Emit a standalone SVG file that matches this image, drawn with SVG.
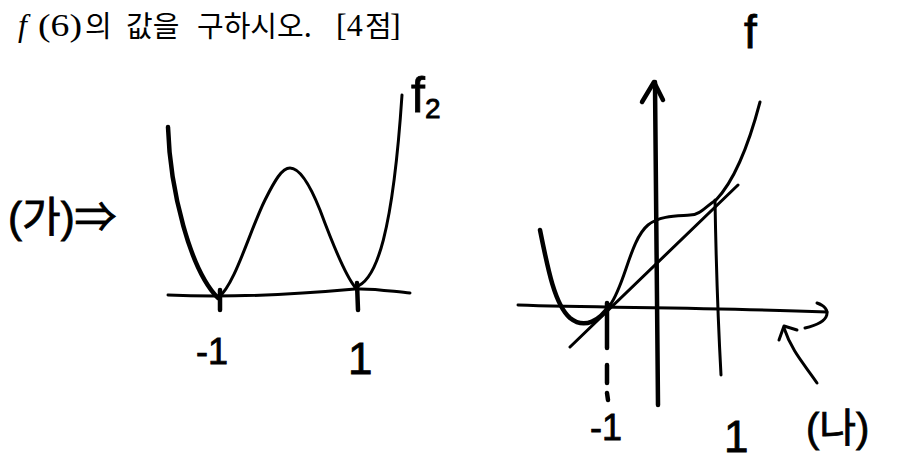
<svg xmlns="http://www.w3.org/2000/svg" width="898" height="461" viewBox="0 0 898 461">
<style>
.ink{fill:none;stroke:#000;stroke-linecap:round;stroke-linejoin:round}
.t{stroke-width:3}
.b{stroke-width:4.5}
.title{font-family:"Liberation Serif","Noto Sans CJK KR",serif;font-size:32px;fill:#000}
.kr{font-family:"Noto Sans CJK KR","Liberation Serif",serif;font-size:29px;fill:#000}
.hw{font-family:"Liberation Sans","Noto Sans CJK KR",sans-serif;fill:#000;stroke:#000;stroke-width:0.8}
</style>
<rect width="898" height="461" fill="#fff"/>
<g id="title">
<text class="title" x="18" y="36" font-style="italic">f</text>
<text class="title" x="38" y="36" textLength="44" lengthAdjust="spacingAndGlyphs">(6)</text>
<text class="kr" x="85" y="37">의</text>
<text class="kr" x="126" y="37">값을</text>
<text class="kr" x="197" y="37">구하시오.</text>
<text class="title" x="336" y="36">[4</text>
<text class="kr" x="365" y="37">점</text>
<text class="title" x="390" y="36">]</text>
</g>
<g id="graph-ga">
<path class="ink t" d="M168,295 C230,298 300,294 355,289 C375,288 395,292 410,293"/>
<path class="ink b" d="M168,127 C170,190 190,270 218,298"/>
<path class="ink t" d="M218,298 C235,285 250,230 265,200 C275,180 282,168 290,168 C300,168 310,185 320,210 C333,245 345,275 355,287"/>
<path class="ink t" d="M355,287 C377,282 393,230 402,95"/>
<path class="ink b" d="M220,290 L220,310"/>
<path class="ink b" d="M357,283 L358,310"/>
<text class="hw" x="8" y="232" font-size="42">(가)⇒</text>
<text class="hw" x="196" y="364" font-size="36">-1</text>
<text class="hw" x="348" y="374" font-size="44">1</text>
<text class="hw" x="411" y="112" font-size="50">f<tspan font-size="28" dy="6">2</tspan></text>
</g>
<g id="graph-na">
<path class="ink t" d="M518,305 C600,308 700,307 827,312"/>
<path class="ink t" d="M817,303 C832,308 832,322 805,328"/>
<path class="ink b" d="M655,82 C656,200 657,320 658,405"/>
<path class="ink b" d="M642,102 L654,82 L663,100"/>
<path class="ink t" d="M715,200 C716,260 718,320 721,375"/>
<path class="ink b" d="M607,303 L607,348 M607,365 L607,383 M607,393 L608,400"/>
<path class="ink t" d="M570,347 L738,185"/>
<path class="ink b" d="M540,230 C548,270 555,305 570,318 C585,330 600,320 610,305"/>
<path class="ink t" d="M610,305 C625,285 630,240 648,225 C660,215 680,216 690,215 C700,215 705,207 716,200 C735,180 750,140 760,102"/>
<path class="ink t" d="M817,383 C805,365 792,352 784,328"/>
<path class="ink t" d="M779,340 L784,326 L797,330"/>
<text class="hw" x="744" y="48" font-size="46">f</text>
<text class="hw" x="590" y="440" font-size="36">-1</text>
<text class="hw" x="724" y="452" font-size="44">1</text>
<text class="hw" x="806" y="442" font-size="40">(나)</text>
</g>
</svg>
